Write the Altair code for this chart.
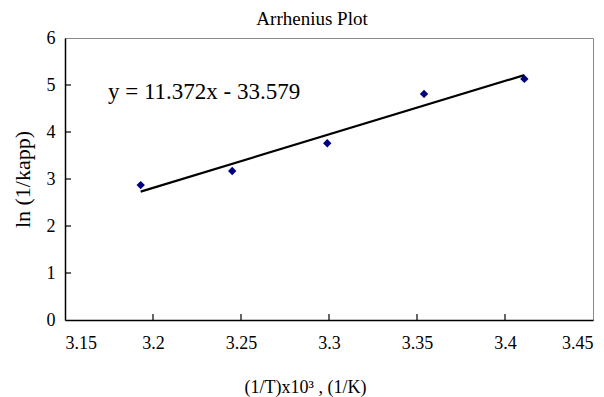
import altair as alt
import pandas as pd

# data
inv_T = [3.193, 3.245, 3.299, 3.354, 3.411]
ln_kapp = [2.87, 3.17, 3.76, 4.81, 5.13]
slope = 11.372
intercept = -33.579
x_ticks = [3.15, 3.2, 3.25, 3.3, 3.35, 3.4, 3.45]
y_ticks = [0, 1, 2, 3, 4, 5, 6]
equation = "y = 11.372x - 33.579"

pts = pd.DataFrame({"x": inv_T, "y": ln_kapp})
fit = pd.DataFrame({"x": [inv_T[0], inv_T[-1]],
                    "y": [slope * inv_T[0] + intercept, slope * inv_T[-1] + intercept]})
xticks_df = pd.DataFrame({"x": x_ticks[1:-1]})
yticks_df = pd.DataFrame({"y": y_ticks[1:-1]})

FONT = "Liberation Serif"
xs = alt.Scale(domain=[3.15, 3.45], nice=False, zero=False)
ys = alt.Scale(domain=[0, 6], nice=False)

xax = alt.Axis(values=x_ticks, labelExpr="datum.value", ticks=False,
               domainColor="black", domainWidth=1.5, labelFont=FONT, labelFontSize=18,
               labelColor="black", labelPadding=14, grid=False,
               title="(1/T)x10³ , (1/K)", titleFont=FONT, titleFontSize=18,
               titleFontWeight="normal", titleColor="black", titlePadding=26, titleX=240)
yax = alt.Axis(values=y_ticks, ticks=False, domainColor="black",
               domainWidth=1.5, labelFont=FONT, labelFontSize=18, labelColor="black",
               labelPadding=10, grid=False, title="ln (1/kapp)", titleFont=FONT,
               titleFontSize=22, titleFontWeight="normal", titleColor="black",
               titlePadding=12)

base = alt.Chart(pts)
points = base.mark_point(shape="diamond", filled=True, color="#000080", size=70, opacity=1).encode(
    x=alt.X("x:Q", scale=xs, axis=xax), y=alt.Y("y:Q", scale=ys, axis=yax))
line = alt.Chart(fit).mark_line(color="black", strokeWidth=2.2).encode(
    x=alt.X("x:Q", scale=xs), y=alt.Y("y:Q", scale=ys))
xtk = alt.Chart(xticks_df).mark_rule(color="black", strokeWidth=1.2).encode(
    x=alt.X("x:Q", scale=xs), y=alt.value(282), y2=alt.value(276))
ytk = alt.Chart(yticks_df).mark_rule(color="black", strokeWidth=1.2).encode(
    y=alt.Y("y:Q", scale=ys), x=alt.value(0), x2=alt.value(6))
eq = alt.Chart(pd.DataFrame({"t": [equation]})).mark_text(
    font=FONT, fontSize=23, align="left", baseline="middle", color="black").encode(
    x=alt.value(43), y=alt.value(54), text="t:N")

chart = alt.layer(line, xtk, ytk, points, eq).properties(
    width=528, height=282,
    title=alt.TitleParams("Arrhenius Plot", font=FONT, fontSize=19, fontWeight="normal",
                          color="black", anchor="middle", dx=-17, offset=0),
    autosize=alt.AutoSizeParams(type="none"),
    padding={"left": 57, "top": 30, "right": 3, "bottom": 78},
).configure(background="white", font=FONT).configure_view(stroke="#888888", strokeWidth=1)

chart.save("out.html", embed_options={"renderer": "svg", "actions": False})
